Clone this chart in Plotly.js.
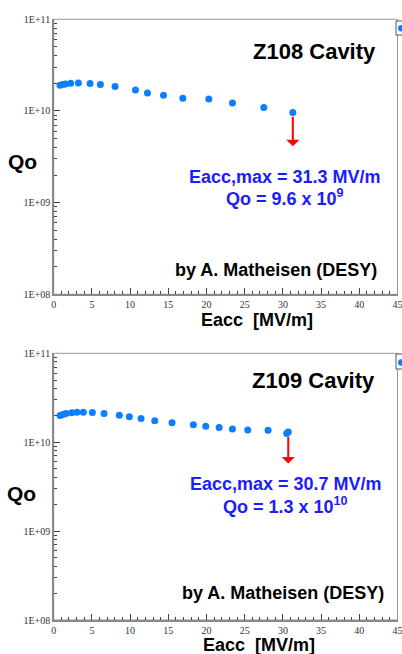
<!DOCTYPE html>
<html>
<head>
<meta charset="utf-8">
<script src="https://cdn.plot.ly/plotly-3.0.1.min.js"></script>
<style>
  html, body { margin: 0; padding: 0; background: #fff; }
  #chart { width: 402px; height: 654px; }
</style>
</head>
<body>
<div id="chart"></div>
<script>
// ---- data ----
var z108Eacc = [0.83, 1.18, 1.53, 2.23, 3.23, 4.76, 6.11, 8.03, 10.7, 12.27, 14.37, 16.9, 20.3, 23.4, 27.5, 31.3];
var z108Qo   = [1.91e10, 1.94e10, 1.97e10, 2.01e10, 2.02e10, 1.99e10, 1.94e10, 1.85e10, 1.69e10, 1.57e10, 1.48e10, 1.38e10, 1.35e10, 1.22e10, 1.09e10, 9.6e9];

var z109Eacc = [0.83, 1.18, 1.61, 2.36, 3.05, 3.88, 5.06, 6.59, 8.59, 9.9, 11.43, 13.23, 15.49, 18.28, 19.9, 21.65, 23.39, 25.4, 28.06, 30.5, 30.7];
var z109Qo   = [2.0e10, 2.05e10, 2.10e10, 2.14e10, 2.17e10, 2.17e10, 2.16e10, 2.10e10, 2.01e10, 1.93e10, 1.85e10, 1.74e10, 1.65e10, 1.57e10, 1.51e10, 1.46e10, 1.41e10, 1.37e10, 1.36e10, 1.25e10, 1.3e10];

var yTickVals = [1e8, 1e9, 1e10, 1e11];
var yTickText = ["1E+08", "1E+09", "1E+10", "1E+11"];
var xTickVals = [0, 5, 10, 15, 20, 25, 30, 35, 40, 45];

var cavityNames = ["Z108 Cavity", "Z109 Cavity"];
var eaccMax = [31.3, 30.7];
var qoText = ["9.6 x 10<sup>9</sup>", "1.3 x 10<sup>10</sup>"];
var arrowTipQo = [4.12e9, 5.75e9];
var arrowTailQo = [8.97e9, 1.19e10];
var xTitle = "Eacc&nbsp; [MV/m]";
var yTitle = "Qo";
var credit = "by A. Matheisen (DESY)";

// ---- layout helpers ----
var W = 402, H = 654;
function px(x) { return x / W; }
function py(y) { return 1 - y / H; }

var minorY = [];
for (var e = 8; e < 11; e++) for (var d = 2; d <= 9; d++) minorY.push(d * Math.pow(10, e));

var markerColor = '#0a7fff';
var blue = '#1c1cff';
var sans = 'Liberation Sans, Arial, sans-serif';
var serif = 'Liberation Serif, Times New Roman, serif';

function xaxisDef(anchor) {
  return {
    domain: [px(53.7), px(397.5)], range: [0, 45], anchor: anchor,
    tickmode: 'array', tickvals: xTickVals,
    ticks: 'inside', ticklen: 6, tickwidth: 1, tickcolor: '#444',
    minor: { dtick: 1, tick0: 0, ticks: 'inside', ticklen: 3, tickwidth: 1, tickcolor: '#444' },
    showgrid: false, zeroline: false,
    showline: true, linecolor: '#888', linewidth: 1.5,
    ticklabeloverflow: 'allow',
    tickfont: { family: serif, size: 10, color: '#333' }
  };
}
function yaxisDef(anchor, dom) {
  return {
    type: 'log', domain: dom, range: [8, 11], anchor: anchor,
    tickmode: 'array', tickvals: yTickVals, ticktext: yTickText,
    ticks: 'inside', ticklen: 6, tickwidth: 1, tickcolor: '#444',
    minor: { tickmode: 'array', tickvals: minorY, ticks: 'inside', ticklen: 3, tickwidth: 1, tickcolor: '#444' },
    showgrid: false, zeroline: false,
    showline: true, linecolor: '#888', linewidth: 1.5,
    tickfont: { family: serif, size: 10, color: '#333' }
  };
}

var traces = [
  { x: z108Eacc, y: z108Qo, xaxis: 'x', yaxis: 'y', type: 'scatter', mode: 'markers',
    marker: { color: markerColor, size: 7 }, name: 'Z108', cliponaxis: false },
  { x: z109Eacc, y: z109Qo, xaxis: 'x2', yaxis: 'y2', type: 'scatter', mode: 'markers',
    marker: { color: markerColor, size: 7 }, name: 'Z109', cliponaxis: false }
];

// panel text positions (pixel centers)
var panels = [
  { xa: 'x', ya: 'y', title: [314.5, 51.5], l1: [284.5, 176.5], l2: [284.5, 197.5], cr: [275.5, 270.5], qo: [22, 161], xt: [257, 320],
    box: [19.3, 294.3], leg: [21, 35, 28.3] },
  { xa: 'x2', ya: 'y2', title: [313.5, 380], l1: [285.7, 484], l2: [285.3, 505], cr: [283, 592.5], qo: [21, 494], xt: [259, 644.5],
    box: [353.3, 620], leg: [354, 369, 362.5] }
];

var annotations = [];
var shapes = [];
panels.forEach(function (p, i) {
  annotations.push({ xref: 'paper', yref: 'paper', x: px(p.title[0]), y: py(p.title[1]), xanchor: 'center', yanchor: 'middle',
    text: '<b>' + cavityNames[i] + '</b>', showarrow: false, font: { family: sans, size: 22, color: '#000' } });
  annotations.push({ xref: 'paper', yref: 'paper', x: px(p.l1[0]), y: py(p.l1[1]), xanchor: 'center', yanchor: 'middle',
    text: '<b>Eacc,max = ' + eaccMax[i] + ' MV/m</b>', showarrow: false, font: { family: sans, size: 18, color: blue } });
  annotations.push({ xref: 'paper', yref: 'paper', x: px(p.l2[0]), y: py(p.l2[1]), xanchor: 'center', yanchor: 'middle',
    text: '<b>Qo = ' + qoText[i] + '</b>', showarrow: false, font: { family: sans, size: 18, color: blue } });
  annotations.push({ xref: 'paper', yref: 'paper', x: px(p.cr[0]), y: py(p.cr[1]), xanchor: 'center', yanchor: 'middle',
    text: '<b>' + credit + '</b>', showarrow: false, font: { family: sans, size: 18, color: '#000' } });
  annotations.push({ xref: 'paper', yref: 'paper', x: px(p.qo[0]), y: py(p.qo[1]), xanchor: 'center', yanchor: 'middle',
    text: '<b>' + yTitle + '</b>', showarrow: false, font: { family: sans, size: 21, color: '#000' } });
  annotations.push({ xref: 'paper', yref: 'paper', x: px(p.xt[0]), y: py(p.xt[1]), xanchor: 'center', yanchor: 'middle',
    text: '<b>' + xTitle + '</b>', showarrow: false, font: { family: sans, size: 18, color: '#000' } });
  // red arrow
  annotations.push({ xref: p.xa, yref: p.ya, x: eaccMax[i], y: Math.log10(arrowTipQo[i]),
    axref: p.xa, ayref: p.ya, ax: eaccMax[i], ay: Math.log10(arrowTailQo[i]),
    text: '', showarrow: true, arrowhead: 1, arrowsize: 1.1, arrowwidth: 2, arrowcolor: '#ff0000', standoff: 0, startstandoff: 0 });
  // plot frame (top / right)
  shapes.push({ type: 'rect', xref: 'paper', yref: 'paper', x0: px(53.7), x1: px(397.5), y0: py(p.box[1]), y1: py(p.box[0]),
    line: { color: '#999', width: 1 }, layer: 'below' });
  // clipped legend box at right edge
  shapes.push({ type: 'rect', xref: 'paper', yref: 'paper', x0: px(396), x1: px(420), y0: py(p.leg[1]), y1: py(p.leg[0]),
    line: { color: '#555', width: 1 }, fillcolor: '#fff' });
  shapes.push({ type: 'circle', xref: 'paper', yref: 'paper', x0: px(398), x1: px(404.5), y0: py(p.leg[2] + 3.2), y1: py(p.leg[2] - 3.2),
    line: { width: 0 }, fillcolor: markerColor });
});

var layout = {
  width: W, height: H,
  margin: { l: 0, r: 0, t: 0, b: 0, pad: 0 },
  paper_bgcolor: '#fff', plot_bgcolor: '#fff',
  showlegend: false,
  xaxis: xaxisDef('y'),
  yaxis: yaxisDef('x', [py(294.3), py(19.3)]),
  xaxis2: xaxisDef('y2'),
  yaxis2: yaxisDef('x2', [py(620), py(353.3)]),
  annotations: annotations,
  shapes: shapes
};

Plotly.newPlot('chart', traces, layout, { displayModeBar: false, staticPlot: true });
</script>
</body>
</html>
